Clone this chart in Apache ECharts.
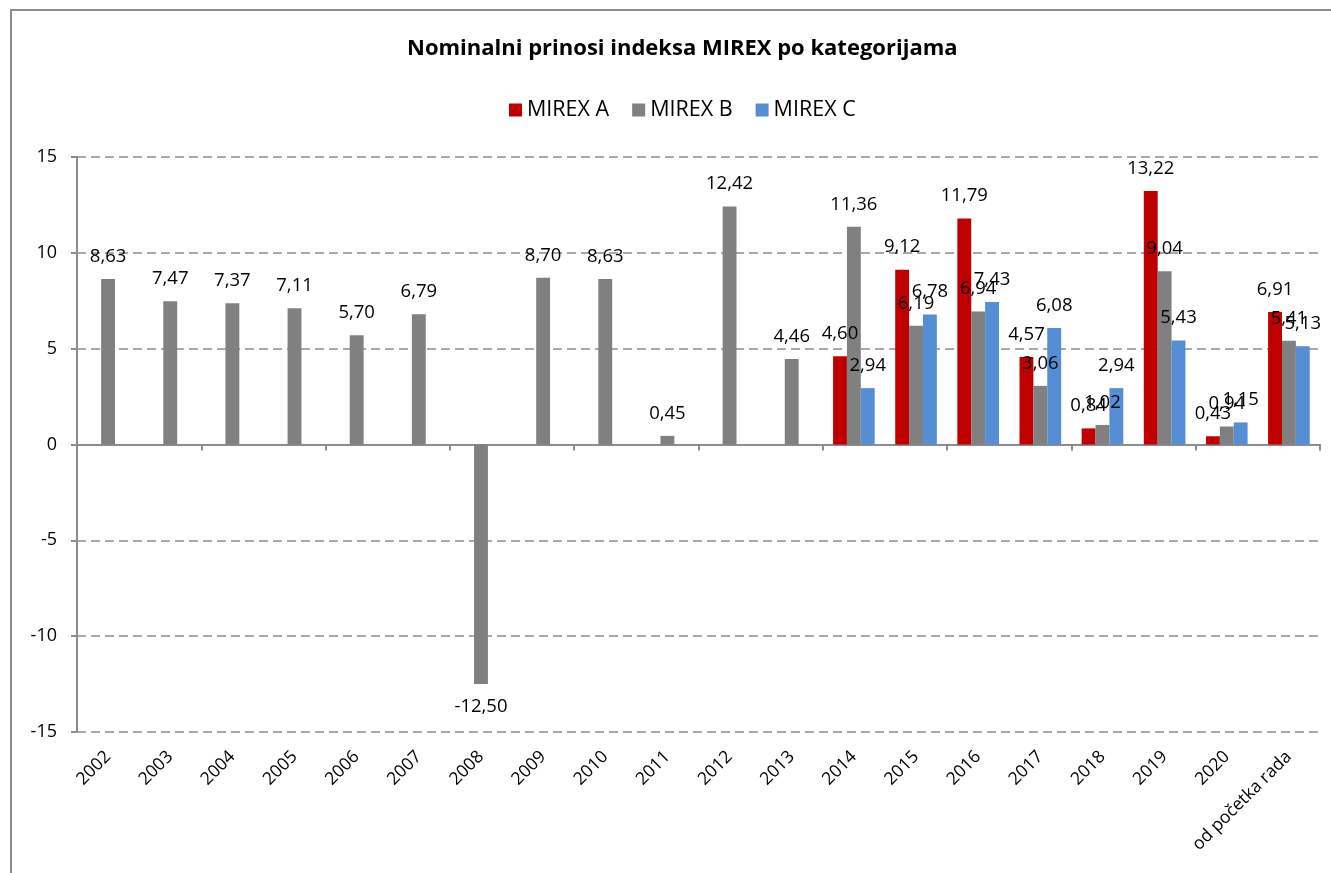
<!DOCTYPE html>
<html>
<head>
<meta charset="utf-8">
<script src="https://cdn.jsdelivr.net/npm/echarts@6/dist/echarts.min.js"></script>
<style>
  html, body { margin: 0; padding: 0; background: #fff; }
  #chart { width: 1331px; height: 873px; }
</style>
</head>
<body>
<div id="chart"></div>
<script>
// godine + ukupno
var categories = ['2002', '2003', '2004', '2005', '2006', '2007', '2008', '2009', '2010', '2011',
  '2012', '2013', '2014', '2015', '2016', '2017', '2018', '2019', '2020', 'od početka rada'];

var mirexA = [null, null, null, null, null, null, null, null, null, null,
  null, null, 4.60, 9.12, 11.79, 4.57, 0.84, 13.22, 0.43, 6.91];
var mirexB = [8.63, 7.47, 7.37, 7.11, 5.70, 6.79, -12.50, 8.70, 8.63, 0.45,
  12.42, 4.46, 11.36, 6.19, 6.94, 3.06, 1.02, 9.04, 0.94, 5.41];
var mirexC = [null, null, null, null, null, null, null, null, null, null,
  null, null, 2.94, 6.78, 7.43, 6.08, 2.94, 5.43, 1.15, 5.13];

var yTicks = [-15, -10, -5, 0, 5, 10, 15];

var FONT = '"Open Sans", sans-serif';

function fmt(p) {
  return p.value == null ? '' : p.value.toFixed(2).replace('.', ',');
}

// negativne vrijednosti - oznaka ispod stupca
function withLabels(arr) {
  return arr.map(function (v) {
    if (v != null && v < 0) {
      return { value: v, label: { position: 'bottom' } };
    }
    return v;
  });
}

function barSeries(name, data, color) {
  return {
    name: name,
    type: 'bar',
    xAxisIndex: 0,
    barGap: '0%',
    barCategoryGap: '33%',
    itemStyle: { color: color },
    label: {
      show: true,
      position: 'top',
      distance: 13,
      color: '#000',
      fontFamily: FONT,
      fontSize: 18.5,
      formatter: fmt
    },
    data: withLabels(data)
  };
}

var chart = echarts.init(document.getElementById('chart'));

chart.setOption({
  backgroundColor: '#fff',
  animation: false,
  title: {
    text: 'Nominalni prinosi indeksa MIREX po kategorijama',
    left: 402,
    top: 33,
    textStyle: { fontFamily: FONT, fontSize: 22, fontWeight: 'bold', color: '#000' }
  },
  legend: {
    top: 94,
    left: 504,
    itemWidth: 13,
    itemHeight: 13,
    itemGap: 23,
    icon: 'rect',
    textStyle: { fontFamily: FONT, fontSize: 21.5, color: '#000' },
    data: ['MIREX A', 'MIREX B', 'MIREX C']
  },
  graphic: [{
    type: 'rect',
    shape: { x: 11, y: 10, width: 1400, height: 900 },
    style: { fill: 'none', stroke: '#8c8c8c', lineWidth: 2 },
    silent: true
  }],
  grid: { left: 77, right: 11, top: 157, bottom: 141 },
  xAxis: [{
    type: 'category',
    data: categories,
    position: 'bottom',
    axisLine: { show: false, onZero: false },
    axisTick: { show: false },
    axisLabel: {
      rotate: 45,
      margin: 22,
      interval: 0,
      color: '#000',
      fontFamily: FONT,
      fontSize: 17.5
    }
  }, {
    type: 'category',
    data: categories,
    position: 'top',
    axisLine: { show: true, onZero: true, lineStyle: { color: '#8c8c8c', width: 2 } },
    axisTick: { show: true, inside: true, length: 6, lineStyle: { color: '#8c8c8c', width: 2 } },
    axisLabel: { show: false },
    splitLine: { show: false }
  }],
  yAxis: {
    type: 'value',
    min: yTicks[0],
    max: yTicks[yTicks.length - 1],
    interval: 5,
    axisLine: { show: true, lineStyle: { color: '#8c8c8c', width: 2 } },
    axisTick: { show: true, length: 6, lineStyle: { color: '#8c8c8c', width: 2 } },
    axisLabel: { margin: 20, color: '#000', fontFamily: FONT, fontSize: 18 },
    splitLine: { show: true, lineStyle: { color: '#8c8c8c', width: 1.5, type: [9, 5] } }
  },
  series: [
    barSeries('MIREX A', mirexA, '#C00000'),
    barSeries('MIREX B', mirexB, '#808080'),
    barSeries('MIREX C', mirexC, '#558ED5')
  ]
});
</script>
</body>
</html>
